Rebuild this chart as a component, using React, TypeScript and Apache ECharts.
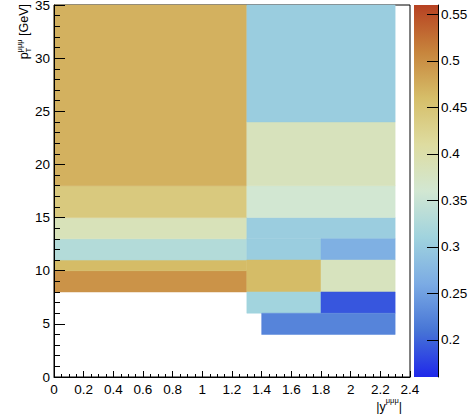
import React, { useEffect, useRef } from 'react';
import * as echarts from 'echarts';

// Bins of the 2D histogram: |y| range, pT range, and content
const cellX0 = [0, 0, 0, 0, 0, 0, 1.3, 1.3, 1.3, 1.3, 1.3, 1.8, 1.3, 1.8, 1.3, 1.8, 1.4];
const cellX1 = [1.3, 1.3, 1.3, 1.3, 1.3, 1.3, 2.3, 2.3, 2.3, 2.3, 1.8, 2.3, 1.8, 2.3, 1.8, 2.3, 2.3];
const cellY0 = [8, 10, 11, 13, 15, 18, 13, 15, 18, 24, 11, 11, 8, 8, 6, 6, 4];
const cellY1 = [10, 11, 13, 15, 18, 35, 15, 18, 24, 35, 13, 13, 11, 11, 8, 8, 6];
const cellZ = [0.497, 0.462, 0.329, 0.385, 0.441, 0.471, 0.303, 0.36, 0.382, 0.302, 0.302, 0.266, 0.462, 0.38, 0.312, 0.19, 0.224];

const zMin = 0.16;
const zMax = 0.56;
const zTickValues = [0.2, 0.25, 0.3, 0.35, 0.4, 0.45, 0.5, 0.55];
const paletteColors = ['#1f28ea', '#4775d6', '#7babe4', '#a0d3de', '#d2e7d2', '#dedca0', '#d6be69', '#c7843c', '#b74122'];

const FONT = 'Liberation Sans, Arial, Helvetica, sans-serif';

function textWidth(text: string, size: number): number {
  const c = document.createElement('canvas').getContext('2d');
  if (!c) return text.length * size * 0.55;
  c.font = `${size}px ${FONT}`;
  return c.measureText(text).width;
}

// text piece whose alphabetic baseline sits at local y = baseline
function piece(text: string, size: number, x: number, baseline: number) {
  return {
    type: 'text', x, y: baseline - 0.35 * size,
    style: { text, font: `${size}px ${FONT}`, fill: '#000', align: 'left', verticalAlign: 'middle' },
  };
}

export default function App() {
  const ref = useRef<HTMLDivElement>(null);
  useEffect(() => {
    if (!ref.current) return;
    const chart = echarts.init(ref.current, undefined, { renderer: 'svg' });
    const cells = cellX0.map((x0, i) => [x0, cellX1[i], cellY0[i], cellY1[i], cellZ[i]]);

    const lab = 13.5;
    const big = 12.5;
    const small = 7.5;
    const mu3 = '\u03bc\u03bc\u03bc';
    // Y title: p_T^{mumumu} [GeV], rotated, end aligned with top of axis
    const wp = textWidth('p', big);
    const wsup = textWidth(mu3, small);
    const wrest = textWidth(' [GeV]', big);
    const yTitleLen = wp + wsup + wrest;
    const yTitleTop = 4;
    // X title |y^{mumumu}|, right aligned
    const wBarY = textWidth('|y', big);
    const wBar = textWidth('|', big);
    const xTitleLen = wBarY + wsup + wBar;
    const xTitleRight = 402;

    chart.setOption({
      animation: false,
      backgroundColor: '#fff',
      grid: [
        { left: 54, top: 5, right: 60, bottom: 42, show: true, borderColor: '#000', borderWidth: 1, backgroundColor: 'transparent', outerBoundsMode: 'none' },
        { left: 414, top: 5, width: 24, bottom: 42, show: false, outerBoundsMode: 'none' },
      ],
      xAxis: [
        {
          type: 'value', gridIndex: 0, min: 0, max: 2.4, interval: 0.2, z: 10,
          axisLine: { show: true, onZero: false, lineStyle: { color: '#000', width: 1 } },
          axisTick: { show: true, inside: true, length: 6, lineStyle: { color: '#000' } },
          minorTick: { show: true, splitNumber: 4, length: 3, lineStyle: { color: '#000' } },
          splitLine: { show: false },
          axisLabel: { color: '#000', fontFamily: FONT, fontSize: lab, margin: 5, showMinLabel: true, showMaxLabel: true, hideOverlap: false },
        },
        { type: 'value', gridIndex: 1, min: 0, max: 1, show: false },
      ],
      yAxis: [
        {
          type: 'value', gridIndex: 0, min: 0, max: 35, interval: 5, z: 10,
          axisLine: { show: true, onZero: false, lineStyle: { color: '#000', width: 1 } },
          axisTick: { show: true, inside: true, length: 11, lineStyle: { color: '#000' } },
          minorTick: { show: true, splitNumber: 5, length: 6, lineStyle: { color: '#000' } },
          splitLine: { show: false },
          axisLabel: { color: '#000', fontFamily: FONT, fontSize: lab, margin: 4, showMinLabel: true, showMaxLabel: true, hideOverlap: false },
        },
        {
          type: 'value', gridIndex: 1, min: zMin, max: zMax, position: 'right', z: 10,
          axisLine: { show: true, onZero: false, lineStyle: { color: '#000', width: 1 } },
          axisTick: { show: true, inside: true, length: 11, customValues: zTickValues, lineStyle: { color: '#000' } },
          splitLine: { show: false },
          axisLabel: { color: '#000', fontFamily: FONT, fontSize: lab, margin: 3, customValues: zTickValues, formatter: (v: number) => String(Math.round(v * 100) / 100) },
        },
      ],
      visualMap: {
        show: false, type: 'continuous', seriesIndex: 0, dimension: 4,
        min: zMin, max: zMax, inRange: { color: paletteColors },
      },
      series: [
        {
          type: 'custom', xAxisIndex: 0, yAxisIndex: 0, z: 2,
          encode: { x: [0, 1], y: [2, 3] },
          data: cells,
          renderItem: (params: any, api: any) => {
            const p0 = api.coord([api.value(0), api.value(3)]);
            const p1 = api.coord([api.value(1), api.value(2)]);
            const col = api.visual('color');
            return {
              type: 'rect',
              shape: { x: p0[0], y: p0[1], width: p1[0] - p0[0], height: p1[1] - p0[1] },
              style: { fill: col, stroke: col, lineWidth: 0.5 },
            };
          },
        },
        {
          type: 'custom', xAxisIndex: 1, yAxisIndex: 1, z: 2,
          encode: { x: 0, y: 1 },
          data: [[0.5, (zMin + zMax) / 2]],
          renderItem: (params: any, api: any) => {
            const tl = api.coord([0, zMax]);
            const br = api.coord([1, zMin]);
            return {
              type: 'rect',
              shape: { x: tl[0], y: tl[1], width: br[0] - tl[0], height: br[1] - tl[1] },
              style: {
                fill: new echarts.graphic.LinearGradient(0, 1, 0, 0,
                  paletteColors.map((c, i) => ({ offset: i / (paletteColors.length - 1), color: c }))),
              },
            };
          },
        },
      ],
      graphic: [
        {
          type: 'group', x: 28, y: yTitleTop + yTitleLen, rotation: Math.PI / 2,
          children: [
            piece('p', big, 0, 0),
            piece('T', small, wp, 3.5),
            piece(mu3, small, wp, -5.5),
            piece(' [GeV]', big, wp + wsup, 0),
          ],
        },
        {
          type: 'group', x: xTitleRight - xTitleLen, y: 411,
          children: [
            piece('|y', big, 0, 0),
            piece(mu3, small, wBarY, -7.5),
            piece('|', big, wBarY + wsup, 0),
          ],
        },
      ],
    });
    return () => chart.dispose();
  }, []);
  return <div ref={ref} style={{ position: 'fixed', left: 0, top: 0, width: 470, height: 419 }} />;
}
